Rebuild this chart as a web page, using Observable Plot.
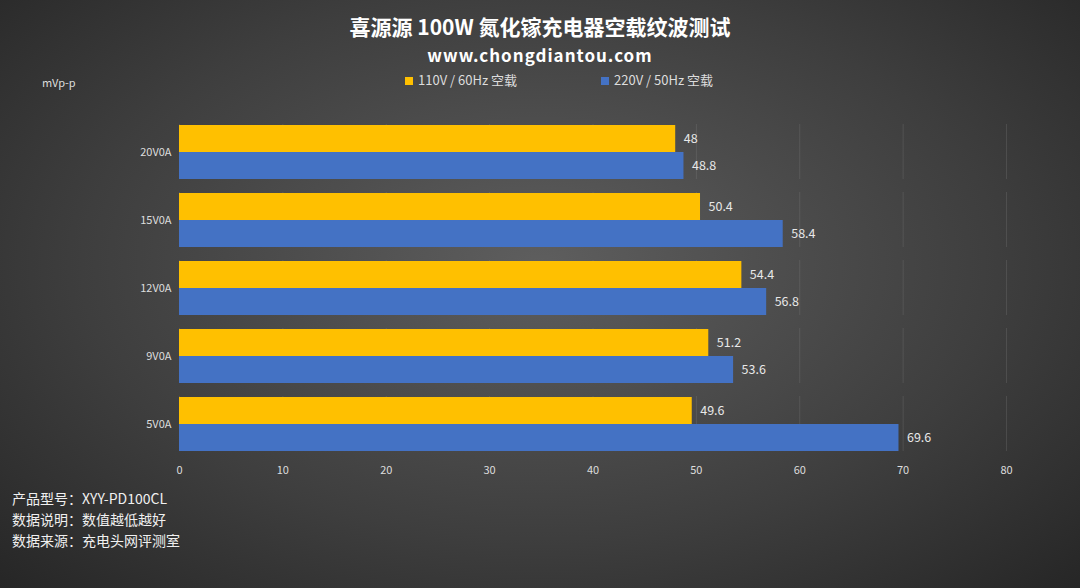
<!DOCTYPE html>
<html><head><meta charset="utf-8">
<script src="https://cdn.jsdelivr.net/npm/d3@7"></script>
<script src="https://cdn.jsdelivr.net/npm/@observablehq/plot@0.6"></script>
<style>
body{margin:0;width:1080px;height:588px;overflow:hidden;font-family:"Noto Sans CJK SC","Noto Sans",sans-serif;
background:radial-gradient(ellipse at 50% 45%,#5e5e5e 0%,#3e3e3e 60%,#262626 100%);color:#fff;position:relative}
.t{position:absolute;left:0;width:1080px;text-align:center;font-weight:bold}
#chart{position:absolute;left:0;top:95px}
.foot{position:absolute;left:12px;top:488px;font-size:14px;line-height:21px;color:#f0f0f0}
.leg{position:absolute;top:70px;font-size:13px;color:#ddd}
.sw{display:inline-block;width:8px;height:8px;margin-right:5px}
</style></head><body>
<div class="t" style="top:14px;font-size:21px;line-height:24px;height:24px">喜源源 100W 氮化镓充电器空载纹波测试</div>
<div class="t" style="top:45px;font-size:17px;line-height:20px;height:20px;letter-spacing:1px">www.chongdiantou.com</div>
<div class="leg" style="left:405px"><span class="sw" style="background:#ffc000"></span>110V / 60Hz 空载</div>
<div class="leg" style="left:601px"><span class="sw" style="background:#4472c4"></span>220V / 50Hz 空载</div>
<div style="position:absolute;left:42px;top:74px;font-size:11px;color:#ddd">mVp-p</div>
<div id="chart"></div>
<div class="foot">产品型号：XYY-PD100CL<br>数据说明：数值越低越好<br>数据来源：充电头网评测室</div>
<script>
const categories=["20V0A","15V0A","12V0A","9V0A","5V0A"];
const series=["110V / 60Hz 空载","220V / 50Hz 空载"];
const v110=[48,50.4,54.4,51.2,49.6];
const v220=[48.8,58.4,56.8,53.6,69.6];
const xTicks=[0,10,20,30,40,50,60,70,80];
const data=[];
categories.forEach((c,i)=>{data.push({c,s:series[0],v:v110[i]});data.push({c,s:series[1],v:v220[i]});});
const p=Plot.plot({
 width:1080,height:387,marginLeft:179,marginRight:74,marginTop:29,marginBottom:30,
 style:{background:"transparent",color:"#ddd",fontSize:"11px",fontFamily:"Noto Sans CJK SC, sans-serif"},
 x:{domain:[0,80],ticks:xTicks,tickSize:0,label:null},
 fy:{domain:categories,padding:0.19,label:null,axis:null},
 y:{domain:series,axis:null,padding:0},
 color:{domain:series,range:["#ffc000","#4472c4"]},
 marks:[
  Plot.ruleX(xTicks,{x:d=>d,stroke:"#999",strokeOpacity:0.2}),
  Plot.barX(data,{fy:"c",y:"s",x:"v",fill:"s"}),
  Plot.text(data,{fy:"c",y:"s",x:"v",text:d=>String(d.v),dx:8,textAnchor:"start",fill:"#e8e8e8",fontSize:12.5}),
  Plot.axisFy({anchor:"left",tickSize:0,label:null,fill:"#ddd",tickPadding:8}),
  Plot.axisX(xTicks,{tickSize:0,label:null,fill:"#ddd",tickPadding:15})
 ]
});
document.getElementById("chart").appendChild(p);
</script></body></html>
